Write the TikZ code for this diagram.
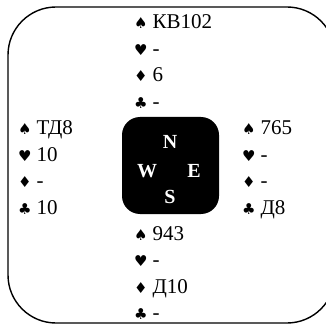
\documentclass[tikz,border=0pt]{standalone}
\usepackage{fontspec}
\setmainfont{Liberation Serif}
\newfontfamily\suitfont{DejaVu Sans}
\tikzset{
  handline/.style={anchor=base west, inner sep=0pt, font=\fontsize{21}{21}\selectfont},
  compass/.style={inner sep=0pt, text=white, font=\fontsize{20}{20}\selectfont\bfseries},
  border/.style={draw=black, line width=1.4pt, rounded corners=48pt},
  table/.style={fill=black, rounded corners=18pt}
}
\newcommand{\st}[1]{{\suitfont\fontsize{15}{15}\selectfont #1}\hspace{5pt}}
\begin{document}
\begin{tikzpicture}[x=1pt,y=1pt]
\useasboundingbox (0,0) rectangle (326,324);
\clip (0,0) rectangle (326,324);
\draw[border] (8,317) rectangle (335,1);
\fill[table] (122,207) rectangle (219,110);
\node[compass] (N) at (170,182) {N};
\node[compass] (W) at (147,153) {W};
\node[compass] (E) at (194,153) {E};
\node[compass] (S) at (170,127) {S};
% North
\node[handline] (n1) at (134,295) {\st{♠}КВ102};
\node[handline] (n2) at (134,268.5) {\st{♥}-};
\node[handline] (n3) at (134,242) {\st{♦}6};
\node[handline] (n4) at (134,215.5) {\st{♣}-};
% West
\node[handline] (w1) at (18,189) {\st{♠}ТД8};
\node[handline] (w2) at (18,162.5) {\st{♥}10};
\node[handline] (w3) at (18,136) {\st{♦}-};
\node[handline] (w4) at (18,109.5) {\st{♣}10};
% East
\node[handline] (e1) at (242,189) {\st{♠}765};
\node[handline] (e2) at (242,162.5) {\st{♥}-};
\node[handline] (e3) at (242,136) {\st{♦}-};
\node[handline] (e4) at (242,109.5) {\st{♣}Д8};
% South
\node[handline] (s1) at (134,84) {\st{♠}943};
\node[handline] (s2) at (134,57.5) {\st{♥}-};
\node[handline] (s3) at (134,31) {\st{♦}Д10};
\node[handline] (s4) at (134,4.5) {\st{♣}-};
\end{tikzpicture}
\end{document}
